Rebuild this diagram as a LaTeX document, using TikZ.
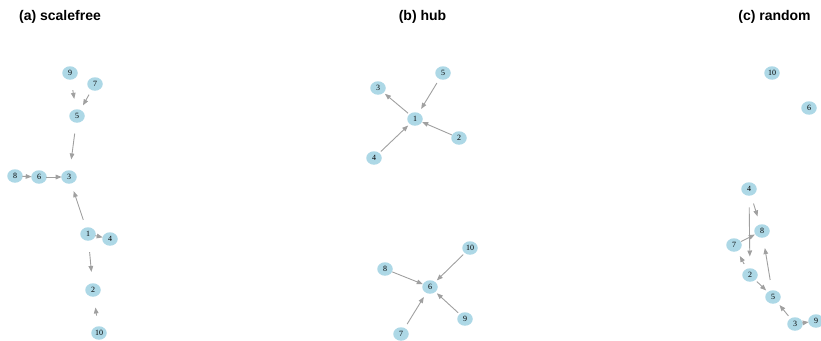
\documentclass[tikz,border=0pt]{standalone}
\usepackage{fontspec}
\setmainfont{Liberation Serif}
\newfontfamily\titlefont{Liberation Sans}
\usetikzlibrary{calc,arrows.meta,shapes.geometric}

\definecolor{vfill}{RGB}{173,216,230}
\definecolor{egray}{RGB}{160,160,160}

\tikzset{
  vtx/.style={ellipse, fill=vfill, draw=none, inner sep=0pt,
    minimum width=15.5pt, minimum height=13.5pt,
    font=\fontsize{8}{9}\selectfont},
  edge/.style={draw=egray, line width=0.9pt,
    -{Triangle[length=6pt,width=4.6pt]}},
  paneltitle/.style={anchor=base, font=\titlefont\bfseries\fontsize{14}{16}\selectfont}
}

% directed link, trimmed at both ends by an elliptic clearance
\newcommand\dlink[2]{%
  \draw[edge] let \p1=($(#2)-(#1)$),
    \n1={veclen(\x1,\y1)/sqrt((\x1/7.3)^2+(\y1/18.5)^2)} in
    ($(#1)!\n1!(#2)$) -- ($(#2)!\n1!(#1)$);}

\begin{document}
\begin{tikzpicture}[x=1pt,y=-1pt]
\useasboundingbox (0,0) rectangle (821,340);

% panel titles
\node[paneltitle] (ta) at (60,20) {(a) scalefree};
\node[paneltitle] (tb) at (422.5,20) {(b) hub};
\node[paneltitle] (tc) at (774.5,20) {(c) random};

% (a) scale-free network
\node[vtx] (a9)  at (70,73)   {9};
\node[vtx] (a7)  at (95,84)   {7};
\node[vtx] (a5)  at (77,116)  {5};
\node[vtx] (a3)  at (69,177)  {3};
\node[vtx] (a6)  at (39,177)  {6};
\node[vtx] (a8)  at (15,176)  {8};
\node[vtx] (a1)  at (88,234)  {1};
\node[vtx] (a4)  at (110,239) {4};
\node[vtx] (a2)  at (93,290)  {2};
\node[vtx] (a10) at (99,333)  {10};

\dlink{a9}{a5}
\dlink{a7}{a5}
\dlink{a5}{a3}
\dlink{a8}{a6}
\dlink{a6}{a3}
\dlink{a1}{a3}
\dlink{a1}{a4}
\dlink{a1}{a2}
\dlink{a10}{a2}

% (b) hub network
\node[vtx] (b3)  at (378,88)  {3};
\node[vtx] (b5)  at (443,73)  {5};
\node[vtx] (b1)  at (415,119) {1};
\node[vtx] (b2)  at (459,138) {2};
\node[vtx] (b4)  at (374,158) {4};
\node[vtx] (b10) at (470,248) {10};
\node[vtx] (b8)  at (385,269) {8};
\node[vtx] (b6)  at (430,287) {6};
\node[vtx] (b9)  at (465,319) {9};
\node[vtx] (b7)  at (401,334) {7};

\dlink{b1}{b3}
\dlink{b5}{b1}
\dlink{b2}{b1}
\dlink{b4}{b1}
\dlink{b10}{b6}
\dlink{b8}{b6}
\dlink{b9}{b6}
\dlink{b7}{b6}

% (c) random network
\node[vtx] (c10) at (772,73)  {10};
\node[vtx] (c6)  at (809,108) {6};
\node[vtx] (c4)  at (749,189) {4};
\node[vtx] (c8)  at (762,231) {8};
\node[vtx] (c7)  at (734,245) {7};
\node[vtx] (c2)  at (750,275) {2};
\node[vtx] (c5)  at (773,297) {5};
\node[vtx] (c3)  at (795,324) {3};
\node[vtx] (c9)  at (816,321) {9};

\dlink{c4}{c8}
\dlink{c4}{c2}
\dlink{c7}{c8}
\dlink{c2}{c7}
\dlink{c2}{c5}
\dlink{c5}{c8}
\dlink{c3}{c5}
\dlink{c3}{c9}
\end{tikzpicture}
\end{document}
